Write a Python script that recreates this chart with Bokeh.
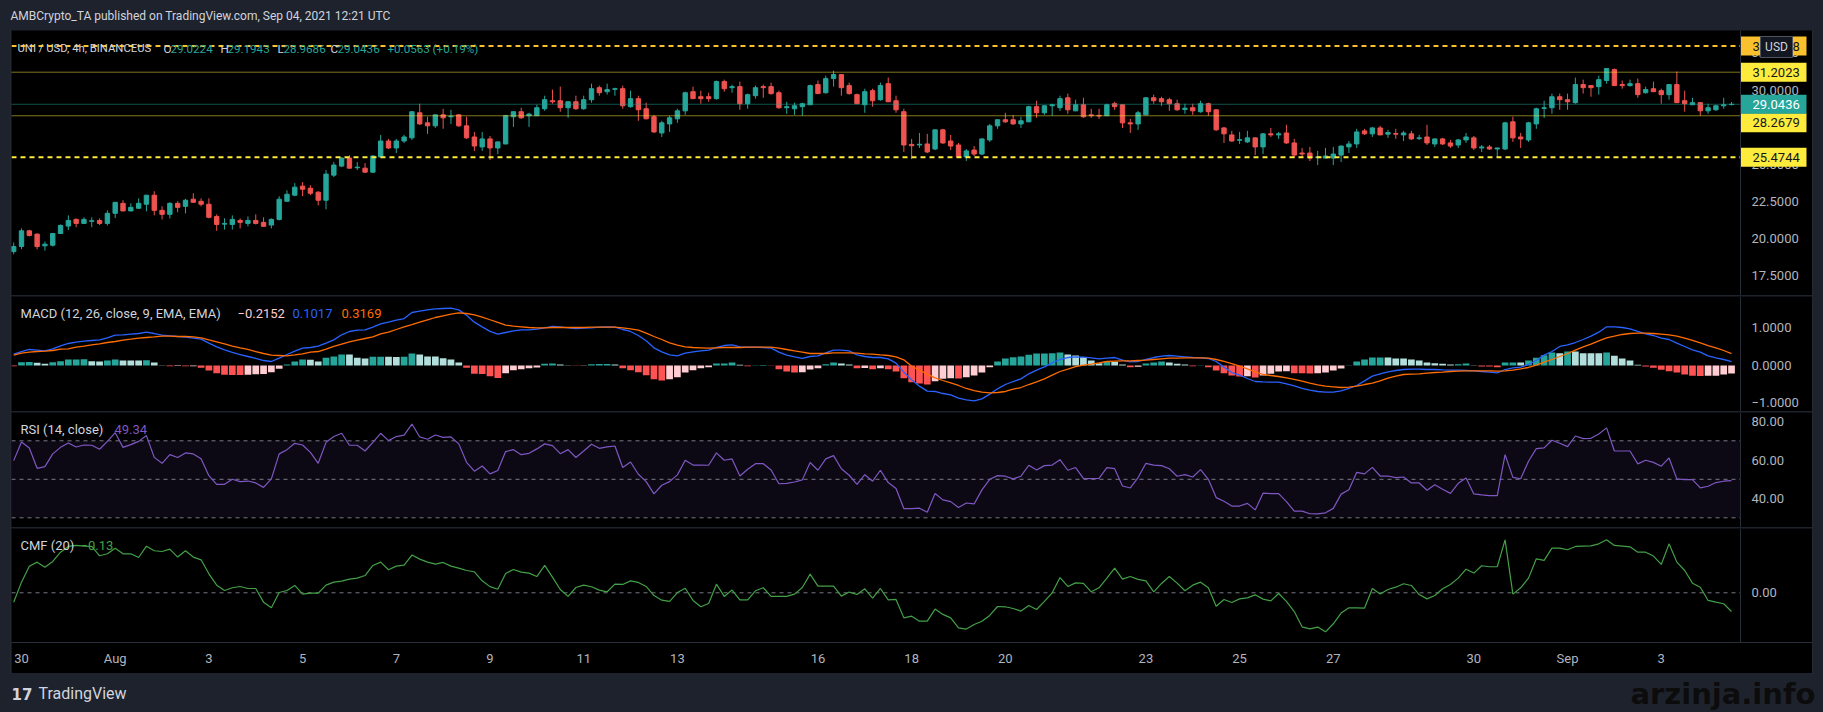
import pandas as pd
from bokeh.core.properties import value
from bokeh.embed import file_html
from bokeh.layouts import column, row
from bokeh.models import (BoxAnnotation, ColumnDataSource, CustomJSTickFormatter, FixedTicker,
                          Label, Range1d, Spacer, Span)
from bokeh.plotting import figure
from bokeh.resources import INLINE

# ---------------- data (UNI/USD 4h, Binance US) ----------------
START = "2021-07-29 20:00"
OPEN = [
19.12, 19.46, 20.52, 20.30, 19.51, 19.55, 20.34, 20.84, 21.29, 21.02,
21.16, 21.22, 21.02, 21.70, 22.37, 21.86, 22.04, 22.31, 22.92, 21.90,
21.63, 22.37, 22.17, 22.65, 22.51, 22.31, 21.49, 20.97, 20.95, 21.22,
21.02, 21.22, 21.09, 20.91, 21.29, 22.51, 22.92, 23.53, 23.39, 23.12,
22.58, 24.27, 24.88, 25.42, 24.77, 24.74, 24.47, 25.49, 26.57, 26.10,
26.57, 26.78, 28.47, 27.79, 27.59, 28.33, 28.20, 28.33, 27.59, 26.84,
26.17, 26.71, 26.10, 26.37, 28.20, 28.54, 28.27, 28.27, 28.74, 29.28,
29.28, 28.81, 29.21, 28.74, 29.35, 30.16, 29.89, 30.05, 30.09, 28.88,
29.42, 28.74, 28.20, 27.11, 27.72, 28.06, 28.60, 29.89, 29.55, 29.55,
29.42, 30.57, 30.16, 30.23, 29.08, 29.62, 30.23, 30.23, 29.82, 28.81,
28.74, 28.88, 29.01, 30.37, 29.82, 30.77, 31.04, 30.30, 29.69, 29.01,
29.96, 29.35, 30.43, 29.28, 28.54, 26.34, 26.30, 26.37, 26.03, 27.32,
26.57, 26.30, 25.49, 25.96, 25.69, 26.64, 27.59, 28.00, 28.00, 27.72,
27.86, 28.88, 28.47, 28.94, 28.81, 29.48, 28.60, 29.01, 28.33, 28.29,
28.27, 29.08, 29.01, 27.79, 27.72, 28.33, 29.48, 29.42, 29.35, 29.08,
28.69, 28.81, 28.54, 29.08, 28.67, 27.45, 26.98, 26.62, 26.51, 26.78,
26.17, 27.05, 26.98, 27.11, 26.44, 25.76, 25.76, 25.45, 25.42, 25.42,
25.62, 26.17, 26.37, 27.25, 27.05, 27.45, 27.03, 27.07, 26.98, 27.05,
26.73, 26.84, 26.37, 26.71, 26.44, 26.30, 26.64, 26.78, 26.10, 26.17,
26.03, 26.03, 27.86, 26.84, 26.64, 27.72, 28.76, 28.81, 29.55, 29.35,
29.15, 30.37, 30.30, 30.23, 30.64, 31.38, 30.37, 30.30, 30.43, 29.82,
30.09, 29.96, 29.69, 30.37, 29.28, 29.01, 29.15, 28.60, 28.67, 28.94,
29.0224]
HIGH = [
19.73, 20.68, 20.59, 20.34, 19.80, 20.36, 20.95, 21.56, 21.36, 21.43,
21.43, 21.36, 21.90, 22.46, 22.58, 22.37, 22.71, 22.94, 23.19, 22.17,
22.44, 22.51, 22.67, 23.05, 22.71, 22.71, 21.63, 21.36, 21.56, 21.36,
21.49, 21.63, 21.43, 21.36, 22.85, 23.25, 23.73, 23.80, 23.59, 23.19,
24.61, 25.15, 25.49, 25.62, 25.15, 25.08, 25.58, 26.98, 26.71, 26.71,
26.98, 28.56, 29.08, 28.20, 28.35, 28.74, 28.67, 28.35, 28.20, 27.18,
27.18, 26.91, 26.53, 28.33, 28.56, 28.81, 28.47, 29.01, 29.62, 30.03,
30.23, 29.23, 29.62, 29.62, 30.43, 30.30, 30.43, 30.16, 30.30, 29.96,
29.62, 29.15, 28.33, 27.93, 28.27, 28.74, 29.89, 30.23, 29.96, 29.82,
30.64, 30.70, 30.37, 30.57, 29.76, 30.30, 30.37, 30.50, 29.96, 29.21,
29.15, 29.15, 30.37, 30.64, 30.97, 31.31, 31.06, 30.50, 29.76, 30.09,
30.09, 30.50, 30.84, 29.62, 28.74, 26.71, 27.11, 27.05, 27.34, 27.39,
26.98, 26.44, 26.03, 26.23, 26.73, 27.72, 28.02, 28.47, 28.33, 28.20,
28.94, 29.28, 28.96, 29.08, 29.62, 29.76, 29.35, 29.48, 28.74, 28.74,
29.08, 29.21, 29.03, 28.06, 28.60, 29.50, 29.69, 29.55, 29.48, 29.35,
29.08, 29.08, 29.28, 29.15, 28.69, 27.52, 27.25, 27.18, 27.25, 26.80,
27.11, 27.45, 27.18, 27.66, 26.71, 26.10, 26.17, 25.90, 26.10, 26.17,
26.25, 26.57, 27.39, 27.39, 27.52, 27.59, 27.32, 27.39, 27.25, 27.25,
26.98, 27.66, 26.73, 26.78, 26.64, 26.71, 27.11, 26.91, 26.30, 26.30,
26.12, 27.86, 28.20, 27.11, 27.86, 28.81, 29.28, 29.76, 29.76, 29.76,
30.84, 30.70, 30.32, 30.97, 31.47, 31.45, 30.64, 30.70, 30.77, 30.23,
30.57, 30.09, 30.39, 31.25, 29.96, 29.48, 29.17, 29.08, 29.01, 29.48,
29.1943]
LOW = [
18.94, 19.28, 20.14, 19.28, 19.19, 19.46, 20.30, 20.57, 20.77, 21.00,
20.77, 20.91, 20.88, 21.38, 21.84, 21.84, 22.02, 21.83, 21.56, 21.29,
21.36, 21.77, 21.70, 22.42, 22.17, 21.36, 20.52, 20.61, 20.61, 20.68,
20.82, 20.95, 20.80, 20.68, 21.22, 22.49, 22.85, 22.85, 22.92, 22.24,
21.97, 24.14, 24.81, 24.72, 24.61, 24.45, 24.45, 25.47, 26.03, 25.76,
26.44, 26.64, 27.66, 27.05, 27.45, 27.39, 27.72, 27.52, 26.71, 25.90,
25.90, 25.29, 25.69, 26.35, 27.52, 28.06, 27.52, 28.25, 28.60, 29.08,
28.54, 28.13, 28.67, 28.67, 29.15, 29.62, 29.69, 29.62, 28.74, 28.81,
27.93, 28.04, 27.11, 26.84, 27.18, 27.79, 28.33, 29.40, 29.08, 29.21,
29.35, 29.89, 29.82, 28.67, 28.74, 29.42, 29.48, 29.69, 28.74, 28.40,
28.33, 28.27, 29.00, 29.74, 29.76, 30.23, 29.62, 29.69, 29.06, 28.47,
28.88, 29.28, 29.19, 28.47, 25.83, 25.35, 26.10, 25.76, 25.96, 26.37,
25.96, 25.42, 25.22, 25.56, 25.62, 26.51, 27.39, 27.79, 27.66, 27.45,
27.84, 28.13, 28.33, 28.27, 28.60, 28.40, 28.58, 28.13, 28.13, 28.06,
28.25, 28.67, 27.45, 27.11, 27.32, 28.31, 29.08, 28.94, 28.60, 28.60,
28.40, 28.33, 28.47, 28.27, 27.25, 26.44, 26.51, 26.37, 26.44, 25.62,
25.69, 26.84, 26.71, 26.37, 25.42, 25.42, 25.22, 24.95, 25.40, 24.95,
25.15, 25.76, 26.10, 26.98, 26.84, 26.96, 26.78, 26.71, 26.57, 26.64,
26.64, 26.30, 26.17, 26.30, 26.10, 26.10, 26.44, 25.96, 25.83, 25.96,
25.49, 25.96, 26.51, 26.10, 26.51, 27.39, 28.13, 28.40, 28.67, 28.67,
29.08, 29.76, 29.55, 29.69, 30.43, 30.28, 30.09, 30.23, 29.48, 29.76,
29.87, 29.08, 29.35, 29.13, 28.54, 28.99, 28.27, 28.40, 28.60, 28.74,
28.9686]
CLOSE = [
19.46, 20.52, 20.21, 19.46, 19.62, 20.34, 20.88, 21.22, 21.02, 21.29,
21.20, 21.02, 21.70, 22.44, 21.86, 22.10, 22.37, 22.92, 21.90, 21.63,
22.37, 22.10, 22.58, 22.44, 22.31, 21.43, 20.95, 21.02, 21.29, 21.09,
21.22, 21.02, 20.82, 21.29, 22.65, 22.98, 23.46, 23.32, 23.05, 22.58,
24.34, 24.95, 25.42, 24.74, 24.81, 24.47, 25.56, 26.57, 26.10, 26.57,
26.84, 28.54, 27.72, 27.59, 28.33, 28.13, 28.24, 27.59, 26.78, 26.23,
26.71, 26.10, 26.51, 28.27, 28.54, 28.13, 28.38, 28.81, 29.35, 29.21,
28.81, 29.21, 28.74, 29.35, 30.09, 29.82, 30.03, 30.09, 28.94, 29.42,
28.67, 28.06, 27.18, 27.79, 28.13, 28.60, 29.82, 29.42, 29.42, 29.42,
30.57, 30.09, 30.23, 29.08, 29.69, 30.16, 30.16, 29.76, 28.81, 28.88,
28.94, 29.08, 30.30, 29.76, 30.77, 31.04, 30.16, 29.76, 29.08, 29.89,
29.28, 30.30, 29.21, 28.67, 26.30, 26.25, 26.35, 25.83, 27.32, 26.44,
26.23, 25.49, 25.90, 25.69, 26.71, 27.59, 28.00, 27.86, 27.72, 27.93,
28.88, 28.47, 28.94, 29.01, 29.42, 28.67, 29.01, 28.20, 28.27, 28.25,
29.01, 28.88, 27.79, 27.72, 28.47, 29.48, 29.28, 29.21, 29.08, 28.67,
28.78, 28.60, 29.08, 28.54, 27.32, 27.05, 26.57, 26.66, 26.78, 26.17,
27.05, 26.98, 27.05, 26.44, 25.62, 25.69, 25.42, 25.49, 25.56, 25.69,
26.23, 26.37, 27.18, 27.05, 27.45, 26.98, 27.14, 27.03, 27.11, 26.71,
26.78, 26.44, 26.71, 26.37, 26.23, 26.64, 26.84, 26.10, 26.17, 26.03,
26.10, 27.79, 26.78, 26.71, 27.79, 28.74, 28.81, 29.55, 29.35, 29.21,
30.37, 30.16, 30.16, 30.70, 31.45, 30.30, 30.30, 30.43, 29.69, 30.03,
29.89, 29.69, 30.37, 29.15, 29.08, 29.15, 28.60, 28.81, 28.94, 29.01,
29.0436]
MACD = [
0.302, 0.373, 0.427, 0.409, 0.391, 0.444, 0.524, 0.587, 0.622, 0.649,
0.667, 0.684, 0.738, 0.809, 0.818, 0.836, 0.853, 0.889, 0.853, 0.809,
0.791, 0.773, 0.756, 0.729, 0.702, 0.596, 0.498, 0.418, 0.347, 0.293,
0.240, 0.187, 0.133, 0.107, 0.196, 0.293, 0.382, 0.462, 0.480, 0.516,
0.596, 0.684, 0.818, 0.907, 0.942, 0.951, 1.022, 1.111, 1.156, 1.209,
1.253, 1.413, 1.449, 1.484, 1.511, 1.520, 1.529, 1.484, 1.342, 1.156,
1.031, 0.910, 0.835, 0.880, 0.924, 0.951, 0.951, 0.969, 1.004, 1.040,
1.031, 1.004, 0.987, 0.996, 1.004, 1.022, 1.031, 1.022, 0.960, 0.907,
0.800, 0.658, 0.471, 0.364, 0.284, 0.258, 0.329, 0.364, 0.391, 0.409,
0.480, 0.533, 0.551, 0.498, 0.489, 0.489, 0.480, 0.462, 0.356, 0.276,
0.231, 0.187, 0.240, 0.258, 0.338, 0.409, 0.409, 0.391, 0.284, 0.240,
0.213, 0.213, 0.178, 0.062, -0.178, -0.382, -0.551, -0.684, -0.693, -0.747,
-0.782, -0.871, -0.916, -0.942, -0.889, -0.764, -0.622, -0.507, -0.427, -0.356,
-0.222, -0.124, -0.036, 0.071, 0.160, 0.213, 0.231, 0.222, 0.204, 0.178,
0.196, 0.213, 0.142, 0.098, 0.107, 0.160, 0.213, 0.249, 0.267, 0.249,
0.231, 0.213, 0.204, 0.187, 0.107, -0.044, -0.187, -0.258, -0.347, -0.427,
-0.436, -0.444, -0.444, -0.489, -0.542, -0.613, -0.658, -0.693, -0.711, -0.711,
-0.676, -0.613, -0.533, -0.409, -0.284, -0.222, -0.169, -0.133, -0.107, -0.098,
-0.098, -0.107, -0.107, -0.116, -0.124, -0.124, -0.133, -0.142, -0.160, -0.178,
-0.196, -0.107, -0.062, -0.044, 0.027, 0.133, 0.276, 0.373, 0.507, 0.551,
0.613, 0.693, 0.782, 0.889, 1.031, 1.031, 1.013, 0.978, 0.907, 0.844,
0.800, 0.729, 0.693, 0.596, 0.507, 0.418, 0.356, 0.258, 0.204, 0.160,
0.1017]
SIGNAL = [
0.276, 0.329, 0.356, 0.373, 0.382, 0.400, 0.436, 0.444, 0.489, 0.516,
0.551, 0.578, 0.613, 0.640, 0.676, 0.702, 0.729, 0.747, 0.764, 0.782,
0.782, 0.773, 0.773, 0.764, 0.738, 0.684, 0.631, 0.578, 0.516, 0.471,
0.427, 0.373, 0.320, 0.276, 0.267, 0.258, 0.284, 0.311, 0.356, 0.373,
0.436, 0.507, 0.569, 0.631, 0.676, 0.720, 0.764, 0.844, 0.889, 0.960,
1.031, 1.093, 1.156, 1.218, 1.280, 1.324, 1.369, 1.404, 1.387, 1.351,
1.289, 1.220, 1.150, 1.076, 1.049, 1.031, 1.013, 1.004, 1.004, 1.013,
1.013, 1.013, 1.013, 1.013, 1.022, 1.022, 1.022, 1.022, 1.004, 0.978,
0.942, 0.862, 0.773, 0.693, 0.604, 0.542, 0.498, 0.480, 0.471, 0.462,
0.471, 0.480, 0.480, 0.480, 0.489, 0.489, 0.489, 0.489, 0.462, 0.427,
0.391, 0.356, 0.320, 0.320, 0.320, 0.338, 0.338, 0.338, 0.329, 0.311,
0.302, 0.284, 0.267, 0.231, 0.151, -0.018, -0.124, -0.231, -0.329, -0.400,
-0.462, -0.533, -0.613, -0.667, -0.711, -0.729, -0.720, -0.693, -0.631, -0.587,
-0.507, -0.436, -0.356, -0.258, -0.160, -0.098, -0.027, 0.009, 0.036, 0.071,
0.107, 0.116, 0.124, 0.124, 0.133, 0.142, 0.160, 0.178, 0.196, 0.196,
0.204, 0.204, 0.204, 0.196, 0.160, 0.107, 0.053, -0.018, -0.089, -0.169,
-0.240, -0.267, -0.293, -0.329, -0.373, -0.418, -0.471, -0.516, -0.551, -0.569,
-0.587, -0.578, -0.551, -0.507, -0.471, -0.409, -0.338, -0.284, -0.240, -0.231,
-0.222, -0.204, -0.187, -0.178, -0.160, -0.151, -0.142, -0.142, -0.142, -0.142,
-0.151, -0.142, -0.124, -0.089, -0.053, 0.009, 0.089, 0.160, 0.240, 0.320,
0.409, 0.498, 0.569, 0.658, 0.738, 0.782, 0.827, 0.853, 0.862, 0.862,
0.853, 0.836, 0.818, 0.782, 0.729, 0.667, 0.604, 0.533, 0.471, 0.400,
0.3169]
HIST = [
-0.018, 0.089, 0.090, 0.071, 0.044, 0.089, 0.116, 0.160, 0.162, 0.165,
0.116, 0.107, 0.133, 0.160, 0.133, 0.133, 0.133, 0.140, 0.080, 0.005,
-0.018, -0.015, -0.020, -0.018, -0.062, -0.133, -0.204, -0.249, -0.252, -0.255,
-0.249, -0.231, -0.228, -0.178, -0.089, 0.027, 0.107, 0.160, 0.155, 0.107,
0.204, 0.240, 0.293, 0.290, 0.204, 0.187, 0.231, 0.235, 0.231, 0.228,
0.231, 0.320, 0.293, 0.240, 0.238, 0.196, 0.160, 0.080, -0.062, -0.222,
-0.225, -0.290, -0.333, -0.204, -0.124, -0.098, -0.071, -0.053, 0.044, 0.053,
0.027, 0.009, -0.009, -0.007, 0.036, 0.038, 0.040, 0.027, -0.071, -0.124,
-0.178, -0.258, -0.364, -0.400, -0.364, -0.311, -0.187, -0.124, -0.071, -0.044,
0.053, 0.056, 0.080, 0.018, -0.018, 0.009, 0.012, -0.009, -0.098, -0.160,
-0.187, -0.180, -0.107, -0.071, 0.036, 0.080, 0.053, 0.027, -0.071, -0.067,
-0.098, -0.071, -0.098, -0.160, -0.338, -0.444, -0.480, -0.507, -0.418, -0.356,
-0.338, -0.347, -0.311, -0.267, -0.187, -0.044, 0.107, 0.187, 0.222, 0.240,
0.284, 0.320, 0.322, 0.325, 0.347, 0.293, 0.267, 0.222, 0.133, 0.062,
0.107, 0.098, 0.027, -0.044, -0.036, 0.053, 0.080, 0.107, 0.080, 0.044,
0.027, -0.018, 0.009, -0.044, -0.133, -0.204, -0.267, -0.293, -0.284, -0.320,
-0.267, -0.222, -0.160, -0.151, -0.204, -0.207, -0.213, -0.204, -0.187, -0.133,
-0.080, 0.009, 0.107, 0.160, 0.213, 0.215, 0.211, 0.187, 0.185, 0.160,
0.133, 0.080, 0.062, 0.044, 0.027, 0.036, 0.053, 0.004, -0.027, -0.030,
-0.044, 0.080, 0.082, 0.078, 0.133, 0.204, 0.276, 0.347, 0.329, 0.373,
0.370, 0.329, 0.327, 0.325, 0.347, 0.258, 0.187, 0.133, 0.018, -0.027,
-0.062, -0.116, -0.151, -0.187, -0.240, -0.276, -0.280, -0.276, -0.272, -0.240,
-0.2152]
RSI = [
59.7, 69.4, 66.3, 55.7, 56.6, 63.2, 66.6, 68.9, 66.8, 67.8,
67.7, 65.6, 69.7, 74.2, 66.6, 68.0, 69.7, 72.7, 61.4, 58.3,
62.8, 61.3, 63.7, 63.2, 60.7, 51.9, 47.4, 47.4, 50.0, 48.8,
49.1, 48.1, 45.8, 50.2, 63.2, 65.4, 68.7, 67.8, 64.0, 58.3,
69.2, 72.2, 73.9, 67.7, 67.7, 64.7, 69.2, 73.9, 70.1, 72.2,
72.9, 78.7, 72.0, 70.8, 73.0, 71.8, 72.0, 68.4, 58.8, 54.2,
56.9, 52.8, 54.6, 64.4, 65.4, 62.8, 63.5, 65.8, 68.4, 67.5,
63.3, 65.4, 61.3, 64.7, 68.2, 66.1, 66.8, 67.3, 56.1, 59.0,
52.6, 48.8, 42.4, 46.9, 48.8, 52.3, 59.9, 57.4, 57.4, 57.3,
63.7, 59.9, 60.6, 51.7, 55.2, 58.1, 58.1, 54.8, 47.7, 47.9,
48.6, 49.7, 58.7, 54.7, 60.6, 62.3, 55.5, 52.1, 47.4, 52.4,
49.0, 54.7, 48.3, 45.2, 34.8, 34.8, 35.0, 32.9, 42.6, 39.3,
38.4, 35.3, 37.7, 37.2, 44.5, 50.0, 51.9, 51.6, 50.2, 51.6,
57.3, 54.8, 57.1, 57.4, 60.2, 54.7, 56.1, 50.5, 50.3, 50.5,
56.1, 55.5, 46.5, 45.5, 50.9, 58.3, 57.4, 57.1, 55.5, 51.6,
52.4, 51.2, 55.0, 50.0, 40.5, 38.6, 36.1, 36.1, 37.5, 34.1,
42.8, 42.6, 42.6, 38.4, 33.5, 33.5, 32.1, 32.0, 32.6, 34.9,
42.3, 44.6, 53.6, 52.8, 56.2, 51.7, 51.7, 50.9, 51.2, 48.1,
48.1, 44.3, 47.2, 44.8, 42.7, 47.9, 50.7, 42.4, 41.9, 41.5,
41.5, 62.8, 51.0, 50.3, 59.4, 65.9, 66.3, 70.3, 68.7, 67.0,
72.5, 71.1, 71.3, 73.5, 76.7, 64.7, 64.7, 64.7, 58.0, 59.9,
58.8, 56.8, 61.1, 50.2, 49.8, 49.8, 45.5, 46.4, 48.3, 49.0,
49.34]
CMF = [
-0.065, 0.074, 0.185, 0.213, 0.178, 0.218, 0.282, 0.322, 0.329, 0.324,
0.322, 0.257, 0.271, 0.310, 0.271, 0.271, 0.245, 0.324, 0.292, 0.287,
0.303, 0.248, 0.292, 0.248, 0.229, 0.132, 0.053, 0.016, 0.035, 0.044,
0.030, 0.030, -0.065, -0.104, 0.002, 0.016, 0.051, -0.009, -0.002, -0.002,
0.053, 0.074, 0.081, 0.095, 0.102, 0.120, 0.190, 0.213, 0.160, 0.185,
0.192, 0.262, 0.234, 0.213, 0.199, 0.211, 0.185, 0.171, 0.155, 0.146,
0.083, 0.043, 0.025, 0.134, 0.162, 0.144, 0.137, 0.113, 0.190, 0.109,
0.023, -0.025, 0.037, 0.053, 0.042, 0.019, 0.007, 0.060, 0.058, 0.083,
0.072, 0.044, -0.019, -0.051, -0.060, 0.002, 0.032, -0.053, -0.097, -0.074,
0.060, -0.025, 0.019, -0.049, -0.049, 0.014, 0.035, -0.025, -0.025, -0.025,
-0.009, 0.037, 0.130, 0.046, 0.046, 0.046, -0.023, 0.005, -0.012, 0.028,
-0.037, 0.030, -0.049, -0.046, -0.174, -0.162, -0.197, -0.197, -0.113, -0.150,
-0.174, -0.243, -0.252, -0.220, -0.197, -0.157, -0.095, -0.097, -0.109, -0.127,
-0.088, -0.116, -0.060, 0.000, 0.106, 0.044, 0.069, 0.065, 0.007, 0.035,
0.102, 0.171, 0.095, 0.113, 0.093, 0.083, 0.007, 0.065, 0.113, 0.067,
0.014, 0.053, 0.074, 0.035, -0.093, -0.046, -0.067, -0.042, -0.035, -0.014,
-0.044, -0.056, -0.005, -0.060, -0.130, -0.236, -0.250, -0.238, -0.271, -0.215,
-0.141, -0.104, -0.104, -0.106, 0.030, -0.009, 0.023, 0.039, 0.063, 0.051,
-0.012, -0.042, -0.019, 0.028, 0.058, 0.102, 0.164, 0.137, 0.188, 0.181,
0.181, 0.368, -0.009, 0.035, 0.102, 0.236, 0.225, 0.310, 0.310, 0.299,
0.322, 0.324, 0.326, 0.340, 0.368, 0.329, 0.324, 0.319, 0.282, 0.282,
0.255, 0.197, 0.340, 0.213, 0.155, 0.067, 0.039, -0.053, -0.065, -0.076,
-0.130]

PRICE_TICKS = [17.5, 20.0, 22.5, 25.0, 27.5, 30.0, 32.5]
MACD_TICKS = [-1.0, 0.0, 1.0]
RSI_TICKS = [40, 60, 80]
CMF_TICKS = [0.0]
RSI_BANDS = [30, 50, 70]
TIME_TICKS = ["2021-07-30", "2021-08-01", "2021-08-03", "2021-08-05", "2021-08-07",
              "2021-08-09", "2021-08-11", "2021-08-13", "2021-08-16", "2021-08-18",
              "2021-08-20", "2021-08-23", "2021-08-25", "2021-08-27", "2021-08-30",
              "2021-09-01", "2021-09-03"]
LEVEL_TOP = 32.9658
LEVEL_R1 = 31.2023
LEVEL_S1 = 28.2679
LEVEL_S2 = 25.4744
LAST = 29.0436

# ---------------- styling / geometry ----------------
FONT = "Roboto"
BG = "#1e222d"
LINE = "#2a2e39"
AX_TXT = "#b2b5be"
LEG_TXT = "#d1d4dc"
UP = "#26a69a"
DOWN = "#ef5350"
W_PAGE = 1823
FW = 1801               # frame width (plot + price scale), page x 11..1812
FRAME_LEFT_PX = 11
DAY0_PX = 21            # page x of 2021-07-30 00:00
PX_PER_DAY = 46.85
H4 = 4 * 3600 * 1000

day0 = pd.Timestamp("2021-07-30")


def t_at(px):
    return day0 + pd.Timedelta(days=(px - DAY0_PX) / PX_PER_DAY)


times = pd.date_range(START, periods=len(CLOSE), freq="4h")
xr = Range1d(start=t_at(FRAME_LEFT_PX), end=t_at(FRAME_LEFT_PX + FW))
T_SEP = t_at(1740)      # price-scale separator
T_LBL = t_at(1751)      # price-scale text start
T_TAG = t_at(1773)      # price-tag box centre
T_TAGTXT = t_at(1752)
T_USD = t_at(1776)


def fmt(v, dec):
    s = "%.*f" % (dec, abs(v))
    return ("\u2212" + s) if v < 0 else s


def panel(h, yr, bottom=False):
    p = figure(frame_width=FW, frame_height=h, x_range=xr, y_range=yr, x_axis_type="datetime",
               x_axis_location="below" if bottom else None, y_axis_location=None,
               output_backend="svg", toolbar_location=None,
               min_border_left=0, min_border_right=0, min_border_top=0,
               min_border_bottom=31 if bottom else 0)
    p.background_fill_color = "black"
    p.border_fill_color = "black"
    p.outline_line_color = None
    p.grid.visible = False
    p.add_layout(Span(location=T_SEP, dimension="height", line_color=LINE, line_width=1))
    return p


def scale_labels(p, ticks, dec):
    s = ColumnDataSource(dict(x=[T_LBL] * len(ticks), y=ticks, t=[fmt(v, dec) for v in ticks]))
    p.text(x="x", y="y", text="t", source=s, text_color=AX_TXT, text_font=value(FONT),
           text_font_size="13px", text_baseline="middle", text_align="left")


def hline(p, level, color, dash, width=1):
    p.segment(x0=xr.start, x1=T_SEP, y0=level, y1=level, line_color=color,
              line_dash=dash, line_width=width)


def legend(p, x, y, text, color, size="13px"):
    p.add_layout(Label(x=x, y=y, x_units="screen", y_units="screen", text=text,
                       text_color=color, text_font=FONT, text_font_size=size,
                       text_baseline="middle", text_align="left"))


def strip(w, h=1, color=LINE):
    f = figure(width=w, height=h, toolbar_location=None, output_backend="svg",
               x_axis_location=None, y_axis_location=None, min_border=0,
               x_range=Range1d(0, 1), y_range=Range1d(0, 1))
    f.background_fill_color = color
    f.border_fill_color = color
    f.outline_line_color = None
    f.grid.visible = False
    return f


# ---------------- price panel ----------------
df = pd.DataFrame(dict(t=times, o=OPEN, h=HIGH, l=LOW, c=CLOSE))
df["top"] = df[["o", "c"]].max(axis=1)
df["bot"] = df[["o", "c"]].min(axis=1)
df["col"] = [UP if c >= o else DOWN for o, c in zip(df.o, df.c)]
src = ColumnDataSource(df)

MAIN_H = 265
main_yr = Range1d(16.165, 34.01)
main = panel(MAIN_H, main_yr)
main.segment(x0="t", y0="l", x1="t", y1="h", color="col", line_width=1, source=src)
main.vbar(x="t", width=0.56 * H4, top="top", bottom="bot", fill_color="col",
          line_color="col", line_width=1, source=src)

hline(main, LEVEL_TOP, "#fbc02d", "5 4", 2)
hline(main, LEVEL_S2, "#ffeb3b", "5 4", 2)
hline(main, LEVEL_R1, "#ffeb3b", "1 1")
hline(main, LEVEL_S1, "#ffeb3b", "1 1")
hline(main, LAST, UP, "1 1")

scale_labels(main, PRICE_TICKS, 4)

units_per_px = (main_yr.end - main_yr.start) / MAIN_H
TAG_SHIFT = {LEVEL_S1: -7 * units_per_px}      # TradingView pushes this tag below the last-price tag
tags = [(LEVEL_TOP, "#fbc02d", "#131722"), (LEVEL_R1, "#ffeb3b", "#131722"),
        (LEVEL_S2, "#ffeb3b", "#131722"), (LEVEL_S1, "#ffeb3b", "#131722"),
        (LAST, UP, "#ffffff")]
tsrc = ColumnDataSource(dict(
    x=[T_TAG] * len(tags), xt=[T_TAGTXT] * len(tags),
    y=[lv + TAG_SHIFT.get(lv, 0) for lv, _, _ in tags],
    txt=["%.4f" % lv for lv, _, _ in tags],
    bg=[b for _, b, _ in tags], fg=[f for _, _, f in tags]))
main.rect(x="x", y="y", width=66, height=19, width_units="screen", height_units="screen",
          fill_color="bg", line_color=None, source=tsrc)
main.text(x="xt", y="y", text="txt", text_color="fg", text_font=value(FONT),
          text_font_size="13px", text_baseline="middle", text_align="left", source=tsrc)

usd_y = main_yr.end - 16.5 * units_per_px
main.rect(x=[T_USD], y=[usd_y], width=32, height=21, width_units="screen",
          height_units="screen", fill_color="#131722", line_color="#50535e", line_width=1)
main.text(x=[T_USD], y=[usd_y], text=["USD"], text_color=LEG_TXT, text_font=value(FONT),
          text_font_size="12px", text_baseline="middle", text_align="center")

LY = 247
legend(main, 6, LY, "UNI / USD, 4h, BINANCEUS", LEG_TXT, "11.3px")
for x, txt, colr in [(152, "O", LEG_TXT), (159, "%.4f" % OPEN[-1], UP),
                     (209, "H", LEG_TXT), (216, "%.4f" % HIGH[-1], UP),
                     (266, "L", LEG_TXT), (272, "%.4f" % LOW[-1], UP),
                     (319, "C", LEG_TXT), (326, "%.4f" % CLOSE[-1], UP),
                     (376, "+0.0563 (+0.19%)", UP)]:
    legend(main, x, LY, txt, colr, "11.6px")

# ---------------- MACD panel ----------------
hcols = []
prev = None
for hv in HIST:
    if hv >= 0:
        hcols.append("#26a69a" if (prev is None or hv > prev) else "#b2dfdb")
    else:
        hcols.append("#ffcdd2" if (prev is not None and hv > prev) else "#ff5252")
    prev = hv
msrc = ColumnDataSource(dict(t=times, macd=MACD, sig=SIGNAL, hist=HIST, col=hcols))
macd = panel(115, Range1d(-1.2267, 1.84))
macd.vbar(x="t", width=0.86 * H4, top="hist", bottom=0, fill_color="col", line_color=None,
          source=msrc)
macd.line(x="t", y="macd", color="#2962ff", line_width=1.3, source=msrc)
macd.line(x="t", y="sig", color="#ff6d00", line_width=1.3, source=msrc)
scale_labels(macd, MACD_TICKS, 4)
legend(macd, 9, 98, "MACD (12, 26, close, 9, EMA, EMA)", LEG_TXT)
legend(macd, 226, 98, fmt(HIST[-1], 4), "#ffcdd2")
legend(macd, 281, 98, fmt(MACD[-1], 4), "#2962ff")
legend(macd, 330, 98, fmt(SIGNAL[-1], 4), "#ff6d00")

# ---------------- RSI panel ----------------
rsrc = ColumnDataSource(dict(t=times, rsi=RSI))
rsi = panel(115, Range1d(24.96, 84.70))
rsi.add_layout(BoxAnnotation(left=xr.start, right=T_SEP, bottom=RSI_BANDS[0],
                             top=RSI_BANDS[2], fill_color="#7e57c2", fill_alpha=0.1,
                             line_color=None, level="underlay"))
for lv in RSI_BANDS:
    hline(rsi, lv, "#787b86", "4 4")
rsi.line(x="t", y="rsi", color="#7e57c2", line_width=1.2, source=rsrc)
scale_labels(rsi, RSI_TICKS, 2)
legend(rsi, 9, 98, "RSI (14, close)", LEG_TXT)
legend(rsi, 103, 98, "%.2f" % RSI[-1], "#7e57c2")

# ---------------- CMF panel ----------------
csrc = ColumnDataSource(dict(t=times, cmf=CMF))
cmf = panel(114, Range1d(-0.345, 0.4465), bottom=True)
hline(cmf, 0.0, "#787b86", "4 4")
cmf.line(x="t", y="cmf", color="#43a047", line_width=1.2, source=csrc)
scale_labels(cmf, CMF_TICKS, 2)
legend(cmf, 9, 97, "CMF (20)", LEG_TXT)
legend(cmf, 69, 97, fmt(CMF[-1], 2), "#43a047")

xa = cmf.xaxis[0]
xa.ticker = FixedTicker(ticks=[pd.Timestamp(d).value // 10**6 for d in TIME_TICKS])
xa.formatter = CustomJSTickFormatter(code="""
const d = new Date(tick);
const m = ['Jan','Feb','Mar','Apr','May','Jun','Jul','Aug','Sep','Oct','Nov','Dec'];
const day = d.getUTCDate();
return day === 1 ? m[d.getUTCMonth()] : String(day);
""")
xa.axis_line_color = LINE
xa.major_tick_line_color = None
xa.minor_tick_line_color = None
xa.major_tick_out = 0
xa.major_tick_in = 0
xa.major_label_text_color = AX_TXT
xa.major_label_text_font = FONT
xa.major_label_text_font_size = "13px"
xa.major_label_standoff = 8

# ---------------- header / footer ----------------
header = strip(W_PAGE, 29, BG)
header.add_layout(Label(x=10, y=14, x_units="screen", y_units="screen",
                        text="AMBCrypto_TA published on TradingView.com, Sep 04, 2021 12:21 UTC",
                        text_color=LEG_TXT, text_font=FONT, text_font_size="12px",
                        text_baseline="middle"))

footer = strip(W_PAGE, 38, BG)
footer.add_layout(Label(x=11, y=19, x_units="screen", y_units="screen", text="17",
                        text_color=LEG_TXT, text_font="DejaVu Sans", text_font_size="15px",
                        text_font_style="bold", text_baseline="middle"))
footer.add_layout(Label(x=38, y=19, x_units="screen", y_units="screen", text="TradingView",
                        text_color=LEG_TXT, text_font=FONT, text_font_size="16px",
                        text_baseline="middle"))
footer.add_layout(Label(x=1630, y=19, x_units="screen", y_units="screen", text="arzinja.info",
                        text_color="#0c0c0c", text_font="DejaVu Sans", text_font_size="29px",
                        text_font_style="bold", text_baseline="middle"))

chart = column(strip(FW), main, strip(FW), macd, strip(FW), rsi, strip(FW), cmf, strip(FW),
               spacing=0)
CH = 1 + MAIN_H + 1 + 115 + 1 + 115 + 1 + 114 + 31 + 1
body = row(Spacer(width=10, height=CH), strip(1, CH), chart, strip(1, CH), spacing=0)
p = column(header, body, footer, spacing=0)

try:
    from bokeh.models import GlobalInlineStyleSheet
    p.stylesheets = [GlobalInlineStyleSheet(css="html, body { background-color: #1e222d; }")]
except Exception:
    pass

open("out.html", "w").write(file_html(p, INLINE))
